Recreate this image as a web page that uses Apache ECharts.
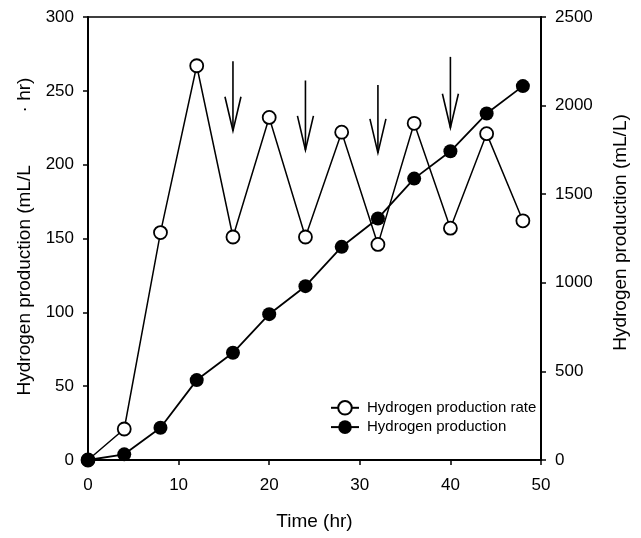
<!DOCTYPE html>
<html>
<head>
<meta charset="utf-8">
<script src="https://cdn.jsdelivr.net/npm/echarts@6/dist/echarts.min.js"></script>
<style>
html,body{margin:0;padding:0;background:#fff;}
#chart{width:641px;height:538px;}
</style>
</head>
<body>
<div id="chart"></div>
<script>
// Data
var timeHr = [0, 4, 8, 12, 16, 20, 24, 28, 32, 36, 40, 44, 48];
var productionRate = [0, 21, 154, 267, 151, 232, 151, 222, 146, 228, 157, 221, 162]; // mL/L·hr
var production = [0, 32, 182, 451, 605, 823, 981, 1203, 1363, 1588, 1742, 1955, 2110]; // mL/L
var arrowTime = [16, 24, 32, 40];
var arrowTop = [270, 257, 254, 273];
var arrowTip = [223, 210, 208, 225];
var xTicks = [0, 10, 20, 30, 40, 50];
var leftTicks = [0, 50, 100, 150, 200, 250, 300];
var rightTicks = [0, 500, 1000, 1500, 2000, 2500];

var FONT = '"Liberation Sans", Arial, Helvetica, sans-serif';

var rateData = timeHr.map(function (t, i) { return [t, productionRate[i]]; });
var prodData = timeHr.map(function (t, i) { return [t, production[i]]; });
var arrowData = arrowTime.map(function (t, i) { return [t, arrowTop[i], arrowTip[i]]; });

var chart = echarts.init(document.getElementById('chart'), null, {renderer: 'canvas'});

var axisCommon = {
  axisLine: {show: true, lineStyle: {color: '#000', width: 2}},
  axisTick: {show: true, inside: false, length: 5, lineStyle: {color: '#000', width: 1.5}},
  splitLine: {show: false}
};
function plain(v) { return String(v); }

chart.setOption({
  animation: false,
  backgroundColor: '#fff',
  grid: {left: 88, right: 100, top: 17, bottom: 78, show: true, borderColor: '#000', borderWidth: 1.5, backgroundColor: 'transparent'},
  legend: {
    orient: 'vertical',
    left: 325,
    top: 395,
    itemWidth: 28,
    itemHeight: 17,
    itemGap: 4,
    textStyle: {color: '#000', fontSize: 15, fontFamily: FONT, padding: [0, 0, 0, 3]},
    data: ['Hydrogen production rate', 'Hydrogen production']
  },
  xAxis: Object.assign({}, axisCommon, {
    type: 'value',
    min: xTicks[0],
    max: xTicks[xTicks.length - 1],
    interval: 10,
    name: 'Time (hr)',
    nameLocation: 'middle',
    nameGap: 52,
    nameTextStyle: {color: '#000', fontSize: 19, fontFamily: FONT},
    axisLabel: {color: '#000', fontSize: 17, fontFamily: FONT, margin: 17, formatter: plain}
  }),
  yAxis: [
    Object.assign({}, axisCommon, {
      type: 'value',
      position: 'left',
      min: leftTicks[0],
      max: leftTicks[leftTicks.length - 1],
      interval: 50,
      name: 'Hydrogen production (mL/L          \u00b7 hr)',
      nameLocation: 'middle',
      nameGap: 50,
      nameTextStyle: {color: '#000', fontSize: 19, fontFamily: FONT, padding: [0, 0, 0, 4]},
      axisLabel: {color: '#000', fontSize: 17, fontFamily: FONT, margin: 14, formatter: plain}
    }),
    Object.assign({}, axisCommon, {
      type: 'value',
      position: 'right',
      min: rightTicks[0],
      max: rightTicks[rightTicks.length - 1],
      interval: 500,
      name: 'Hydrogen production (mL/L)',
      nameLocation: 'middle',
      nameGap: 70,
      nameTextStyle: {color: '#000', fontSize: 19, fontFamily: FONT, padding: [0, 0, 0, 12]},
      axisLabel: {color: '#000', fontSize: 17, fontFamily: FONT, margin: 14, formatter: plain}
    })
  ],
  series: [
    {
      name: 'Hydrogen production rate',
      type: 'line',
      yAxisIndex: 0,
      data: rateData,
      symbol: 'circle',
      symbolSize: 13,
      lineStyle: {color: '#000', width: 1.5},
      itemStyle: {color: '#fff', borderColor: '#000', borderWidth: 1.8},
      z: 3
    },
    {
      name: 'Hydrogen production',
      type: 'line',
      yAxisIndex: 1,
      data: prodData,
      symbol: 'circle',
      symbolSize: 14,
      lineStyle: {color: '#000', width: 1.8},
      itemStyle: {color: '#000', borderColor: '#000', borderWidth: 0},
      z: 4
    },
    {
      name: 'arrows',
      type: 'custom',
      yAxisIndex: 0,
      data: arrowData,
      silent: true,
      z: 5,
      renderItem: function (params, api) {
        var top = api.coord([api.value(0), api.value(1)]);
        var tip = api.coord([api.value(0), api.value(2)]);
        var style = {stroke: '#000', lineWidth: 1.6, fill: null};
        return {
          type: 'group',
          children: [
            {type: 'line', shape: {x1: top[0], y1: top[1], x2: tip[0], y2: tip[1]}, style: style},
            {type: 'polyline', shape: {points: [[tip[0] - 8, tip[1] - 34], [tip[0], tip[1]], [tip[0] + 8, tip[1] - 34]]}, style: style}
          ]
        };
      }
    }
  ]
});
</script>
</body>
</html>
